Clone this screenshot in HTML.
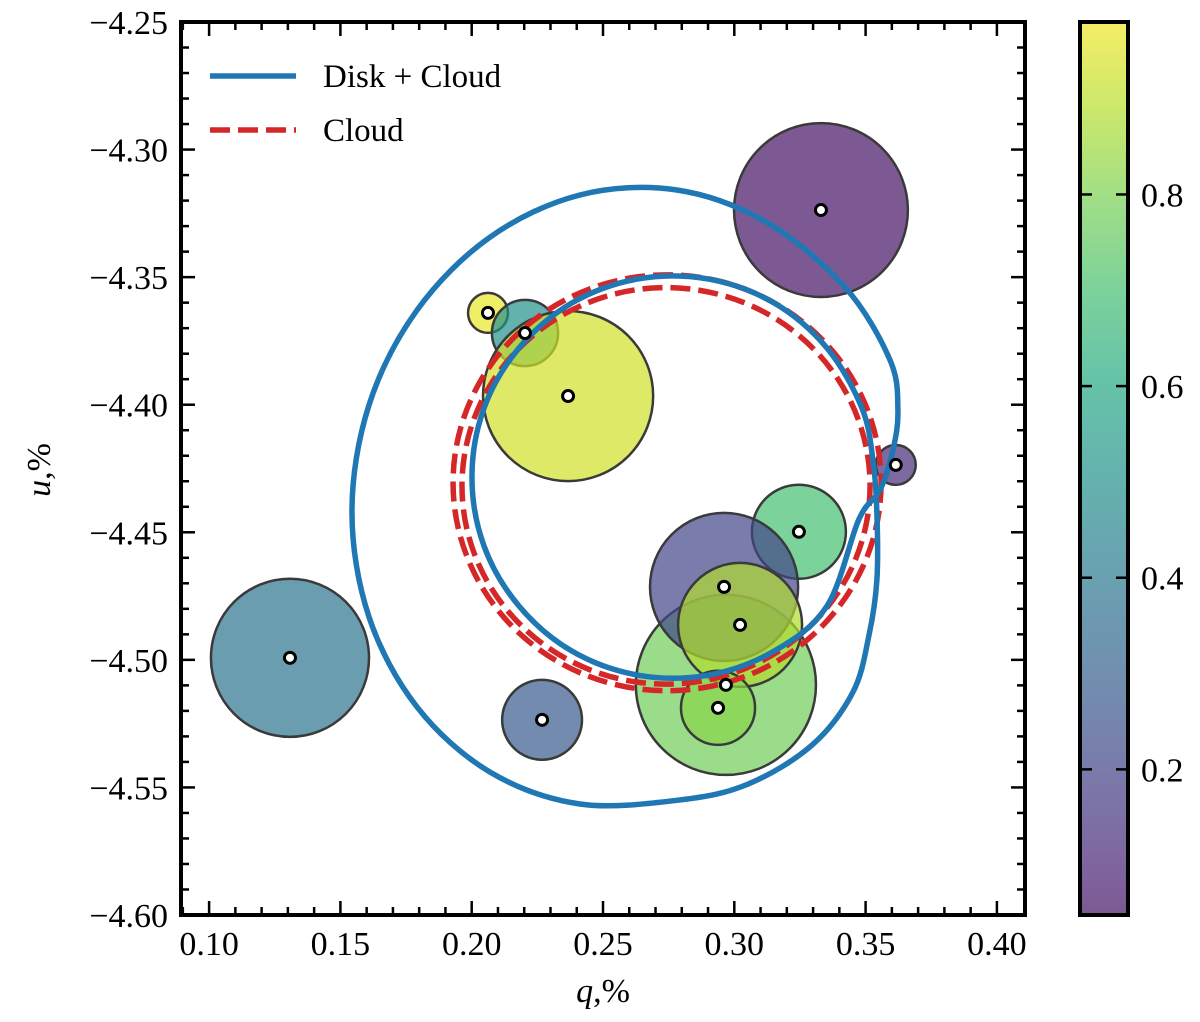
<!DOCTYPE html>
<html><head><meta charset="utf-8"><style>
body{margin:0;background:#fff}
svg text{font-family:"Liberation Serif",serif;fill:#000}
</style></head><body>
<svg id="chart" width="1200" height="1017" xmlns="http://www.w3.org/2000/svg">
<g id="plot"></g>
</svg>
<script>
const bubbleQ=[0.3330,0.2062,0.2203,0.2367,0.3615,0.3246,0.2968,0.2961,0.3022,0.2938,0.1308,0.2268];
const bubbleU=[-4.3237,-4.3640,-4.3719,-4.3966,-4.4236,-4.4498,-4.5098,-4.4714,-4.4863,-4.5188,-4.4992,-4.5235];
const bubbleR=[0.0331,0.0076,0.0126,0.0324,0.0076,0.0179,0.0343,0.0282,0.0236,0.0141,0.0301,0.0152];
const bubbleC=[0.05,0.97,0.50,0.93,0.12,0.70,0.78,0.20,0.88,0.82,0.38,0.28];
const blueQ=[0.3475,0.3353,0.3151,0.2900,0.2633,0.2382,0.2180,0.2047,0.2001,0.2047,0.2180,0.2382,0.2633,0.2900,0.3151,0.3353,0.3486,0.3528,0.3543,0.3543,0.3513,0.3452,0.3296,0.3052,0.2793,0.2412,0.2070,0.1792,0.1609,0.1544,0.1609,0.1792,0.2070,0.2412,0.2778,0.3121,0.3421,0.3593,0.3623,0.3604,0.3555,0.3475];
const blueU=[-4.4448,-4.4789,-4.4966,-4.5060,-4.5060,-4.4966,-4.4789,-4.4554,-4.4284,-4.4013,-4.3778,-4.3601,-4.3507,-4.3507,-4.3601,-4.3778,-4.4013,-4.4217,-4.4424,-4.4687,-4.4903,-4.5126,-4.5334,-4.5487,-4.5549,-4.5565,-4.5440,-4.5185,-4.4832,-4.4420,-4.4001,-4.3629,-4.3343,-4.3178,-4.3158,-4.3284,-4.3539,-4.3825,-4.4021,-4.4178,-4.4334,-4.4448];
const cloudQ=[0.2744,0.2740];
const cloudU=[-4.4306,-4.4318];
const cloudR=[0.0815,0.0777];
const xTicks=[0.10,0.15,0.20,0.25,0.30,0.35,0.40];
const yTicks=[-4.25,-4.30,-4.35,-4.40,-4.45,-4.50,-4.55,-4.60];
const cbTicks=[0.2,0.4,0.6,0.8];

const NS="http://www.w3.org/2000/svg";
const L=181,R=1025,T=22,B=915;
const x0=0.0893,x1=0.4107,y0=-4.60,y1=-4.25;
const X=v=>L+(v-x0)/(x1-x0)*(R-L);
const Y=v=>B-(v-y0)/(y1-y0)*(B-T);
const cbMin=0.048,cbMax=0.98,cbL=1080,cbR=1128;
const CY=v=>B-(v-cbMin)/(cbMax-cbMin)*(B-T);
const svg=document.getElementById('chart');
const plot=document.getElementById('plot');
function mk(tag,attrs,parent){const e=document.createElementNS(NS,tag);for(const k in attrs)e.setAttribute(k,attrs[k]);(parent||svg).appendChild(e);return e;}
const vir=["#440154","#482475","#414487","#355f8d","#2a788e","#21918c","#22a884","#44bf70","#7ad151","#bddf26","#fde725"];
function hex(h){return [1,3,5].map(i=>parseInt(h.substr(i,2),16));}
function viridis(t){t=Math.max(0,Math.min(1,t));const p=t*10,i=Math.min(9,Math.floor(p)),f=p-i;const a=hex(vir[i]),b=hex(vir[i+1]);return `rgb(${a.map((c,k)=>Math.round(c+(b[k]-c)*f)).join(',')})`;}

const defs=mk('defs',{});
const cp=mk('clipPath',{id:'clip'},defs);mk('rect',{x:L,y:T,width:R-L,height:B-T},cp);
const g=mk('g',{'clip-path':'url(#clip)'},plot);

for(let i=0;i<bubbleQ.length;i++){
 const c=mk('circle',{cx:X(bubbleQ[i]),cy:Y(bubbleU[i]),r:bubbleR[i]*(R-L)/(x1-x0),fill:viridis(bubbleC[i]),'fill-opacity':0.7,stroke:'#3a3a3a','stroke-width':2.5},g);
 
 
}
for(let i=0;i<cloudQ.length;i++){
 const e=mk('ellipse',{cx:X(cloudQ[i]),cy:Y(cloudU[i]),rx:cloudR[i]*(R-L)/(x1-x0),ry:cloudR[i]*(B-T)/(y1-y0),fill:'none',stroke:'#d62728','stroke-width':5.5,'stroke-dasharray':'20 8'},g);
 
 
}
(function(){
 const P=blueQ.map((q,i)=>[X(q),Y(blueU[i])]);const n=P.length-1;
 let d=`M${P[0][0]},${P[0][1]}`;
 for(let i=0;i<n;i++){
  const p0=P[i===0?n-1:i-1],p1=P[i],p2=P[i+1],p3=P[i+2>n?1:i+2];
  d+=` C${p1[0]+(p2[0]-p0[0])/6},${p1[1]+(p2[1]-p0[1])/6} ${p2[0]-(p3[0]-p1[0])/6},${p2[1]-(p3[1]-p1[1])/6} ${p2[0]},${p2[1]}`;
 }
 const p=mk('path',{d:d,fill:'none',stroke:'#1f77b4','stroke-width':5.5},g);
 
 
})();
for(let i=0;i<bubbleQ.length;i++){
 const c=mk('circle',{cx:X(bubbleQ[i]),cy:Y(bubbleU[i]),r:5.5,fill:'#fff',stroke:'#000','stroke-width':3},g);
 
 
}
mk('rect',{x:L,y:T,width:R-L,height:B-T,fill:'none',stroke:'#000','stroke-width':4},plot);
for(let v=0.09;v<=0.41;v+=0.01){const px=X(v);const major=xTicks.some(t=>Math.abs(t-v)<1e-6);const len=major?14:8;
 mk('line',{x1:px,x2:px,y1:B,y2:B-len,stroke:'#000','stroke-width':2.5},plot);mk('line',{x1:px,x2:px,y1:T,y2:T+len,stroke:'#000','stroke-width':2.5},plot);}
for(let v=-4.60;v<=-4.249;v+=0.01){const py=Y(v);const major=yTicks.some(t=>Math.abs(t-v)<1e-6);const len=major?14:8;
 mk('line',{x1:L,x2:L+len,y1:py,y2:py,stroke:'#000','stroke-width':2.5},plot);mk('line',{x1:R,x2:R-len,y1:py,y2:py,stroke:'#000','stroke-width':2.5},plot);}
xTicks.forEach(v=>{const t=mk('text',{x:X(v),y:955,'font-size':34,'text-anchor':'middle'},plot);t.textContent=v.toFixed(2);
 });
yTicks.forEach(v=>{const t=mk('text',{x:168,y:Y(v)+12,'font-size':34,'text-anchor':'end'},plot);t.textContent='\u2212'+Math.abs(v).toFixed(2);
 });
let t=mk('text',{x:603,y:1002,'font-size':34,'text-anchor':'middle'});t.innerHTML='<tspan font-style="italic">q</tspan>,%';

t=mk('text',{x:0,y:0,'font-size':34,'text-anchor':'middle',transform:'translate(50,470) rotate(-90)'});t.innerHTML='<tspan font-style="italic">u</tspan>,%';

const lg=mk('g',{});
mk('line',{x1:210,x2:296,y1:76,y2:76,stroke:'#1f77b4','stroke-width':5.5},lg);
t=mk('text',{x:323,y:87,'font-size':33},lg);t.textContent='Disk + Cloud';
mk('line',{x1:210,x2:296,y1:130,y2:130,stroke:'#d62728','stroke-width':5.5,'stroke-dasharray':'20 8'},lg);
t=mk('text',{x:323,y:141,'font-size':33},lg);t.textContent='Cloud';
const grad=mk('linearGradient',{id:'cb',x1:0,y1:1,x2:0,y2:0},defs);
for(let k=0;k<=20;k++){const v=cbMin+(cbMax-cbMin)*k/20;mk('stop',{offset:k/20,'stop-color':viridis(v)},grad);}
const cb=mk('rect',{x:cbL,y:T,width:cbR-cbL,height:B-T,fill:'url(#cb)','fill-opacity':0.7,stroke:'#000','stroke-width':4});

cbTicks.forEach(v=>{const py=CY(v);mk('line',{x1:cbR,x2:cbR-12,y1:py,y2:py,stroke:'#000','stroke-width':2.5});mk('line',{x1:cbL,x2:cbL+12,y1:py,y2:py,stroke:'#000','stroke-width':2.5});
 const tt=mk('text',{x:1141,y:py+12,'font-size':34});tt.textContent=v.toFixed(1);});
</script>
</body></html>
